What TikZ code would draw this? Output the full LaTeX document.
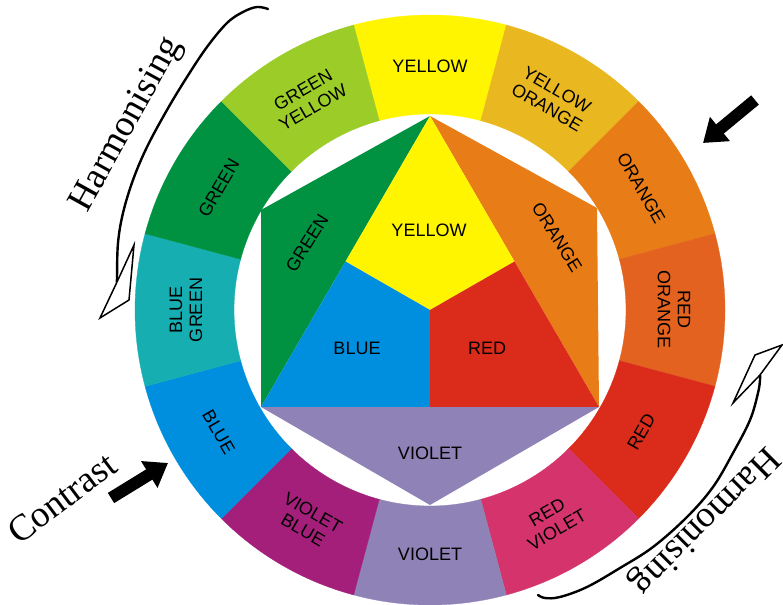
\documentclass[tikz,border=0pt]{standalone}
\usepackage{fontspec}
\setmainfont{Liberation Sans}
\newfontfamily\serifont{Liberation Serif}
\usetikzlibrary{arrows.meta}
\definecolor{cY}{HTML}{FFF500}
\definecolor{cYO}{HTML}{E9B820}
\definecolor{cO}{HTML}{E87C16}
\definecolor{cRO}{HTML}{E3621F}
\definecolor{cR}{HTML}{DB2C1B}
\definecolor{cRV}{HTML}{D4336C}
\definecolor{cV}{HTML}{8E82B6}
\definecolor{cVB}{HTML}{A41F79}
\definecolor{cB}{HTML}{008FDF}
\definecolor{cBG}{HTML}{17AEB2}
\definecolor{cG}{HTML}{009241}
\definecolor{cGY}{HTML}{9BCC28}
\tikzset{
  lbl/.style={font=\fontsize{18}{20}\selectfont, align=center, inner sep=0pt, text=black},
  bigword/.style={font=\serifont\fontsize{37}{40}\selectfont, inner sep=0pt},
  swoosh/.style={line width=2.4pt, line cap=round, line join=round},
  dart/.style={line width=1.5pt, fill=white, line join=miter},
  blockarrow/.style={line width=12pt, -{Triangle[width=30pt,length=22pt]}}
}
\begin{document}
\begin{tikzpicture}[x=1pt,y=1pt]
\useasboundingbox (0,0) rectangle (783,604);
\coordinate (C) at (430,294);
% ring
\foreach \a/\c in {90/cY,60/cYO,30/cO,0/cRO,-30/cR,-60/cRV,-90/cV,-120/cVB,-150/cB,180/cBG,150/cG,120/cGY}{
  \filldraw[fill=\c, draw=\c, line width=0.3pt]
    ([shift={({\a-15}:295)}]C) arc[start angle={\a-15}, end angle={\a+15}, radius=295]
    -- ([shift={({\a+15}:196)}]C) arc[start angle={\a+15}, end angle={\a-15}, radius=196] -- cycle;
}
% ring labels
\node[lbl] (rY)  at ([shift={(90:244)}]C) {YELLOW};
\node[lbl, rotate=-30] (rYO) at ([shift={(60:244)}]C) {YELLOW\\ORANGE};
\node[lbl, rotate=-60] (rO)  at ([shift={(30:244)}]C) {ORANGE};
\node[lbl, rotate=-90] (rRO) at ([shift={(0:244)}]C) {RED\\ORANGE};
\node[lbl, rotate=60]  (rR)  at ([shift={(-30:244)}]C) {RED};
\node[lbl, rotate=30]  (rRV) at ([shift={(-60:244)}]C) {RED\\VIOLET};
\node[lbl]             (rV)  at ([shift={(-90:244)}]C) {VIOLET};
\node[lbl, rotate=-30] (rVB) at ([shift={(-120:244)}]C) {VIOLET\\BLUE};
\node[lbl, rotate=-60] (rB)  at ([shift={(-150:244)}]C) {BLUE};
\node[lbl, rotate=90]  (rBG) at ([shift={(180:244)}]C) {BLUE\\GREEN};
\node[lbl, rotate=60]  (rG)  at ([shift={(150:244)}]C) {GREEN};
\node[lbl, rotate=30]  (rGY) at ([shift={(120:244)}]C) {GREEN\\YELLOW};
% inner figure
\coordinate (T) at (430,488);
\coordinate (L) at (261,197);
\coordinate (R) at (599,197);
\coordinate (ML) at (345.5,342.5);
\coordinate (MR) at (514.5,342.5);
\coordinate (MB) at (430,197);
\coordinate (O) at (430,294);
\coordinate (HL) at (261,394);
\coordinate (HR) at (597,396);
\coordinate (VB) at (430,99);
\fill[cG] (T) -- (HL) -- (L) -- cycle;
\fill[cO] (T) -- (HR) -- (R) -- cycle;
\fill[cV] (L) -- (R) -- (VB) -- cycle;
\fill[cY] (T) -- (MR) -- (O) -- (ML) -- cycle;
\fill[cB] (ML) -- (O) -- (MB) -- (L) -- cycle;
\fill[cR] (MR) -- (R) -- (MB) -- (O) -- cycle;
\node[lbl] (iY) at (429,374) {YELLOW};
\node[lbl] (iB) at (357,256) {BLUE};
\node[lbl] (iR) at (487,256) {RED};
\node[lbl] (iV) at (430,151) {VIOLET};
\node[lbl, rotate=58] (iG) at (307,361) {GREEN};
\node[lbl, rotate=-58] (iO) at (557,367) {ORANGE};
% upper-left harmonising arrow
\draw[swoosh] plot[smooth, tension=0.6] coordinates {(268,595) (257,597) (243,592) (227,581) (207,557) (187,527) (167,494) (147,457) (133,424) (123,391) (118,361) (117,327) (117,322)};
\draw[dart] (100,286) -- (129,304) -- (134,359) -- (117,322) -- cycle;
\node[bigword, rotate=61] (h1) at (127,479) {Harmonising};
% lower-right harmonising arrow
\draw[swoosh] plot[smooth, tension=0.6] coordinates {(538,9) (545,6) (560,7) (587,17) (620,36) (653,57) (687,87) (713,117) (733,151) (750,184) (758,211) (760,224) (760,229)};
\draw[dart] (782,259) -- (755,249) -- (733,201) -- (760,229) -- cycle;
\node[bigword, rotate=-135] (h2) at (704,84) {Harmonising};
% contrast
\node[bigword, rotate=37] (con) at (62,106) {Contrast};
\coordinate (a1s) at (111,106);
\coordinate (a1e) at (168,141);
\draw[blockarrow] (a1s) -- (a1e);
\coordinate (a2s) at (755,504);
\coordinate (a2e) at (703,461);
\draw[blockarrow] (a2s) -- (a2e);
\end{tikzpicture}
\end{document}
